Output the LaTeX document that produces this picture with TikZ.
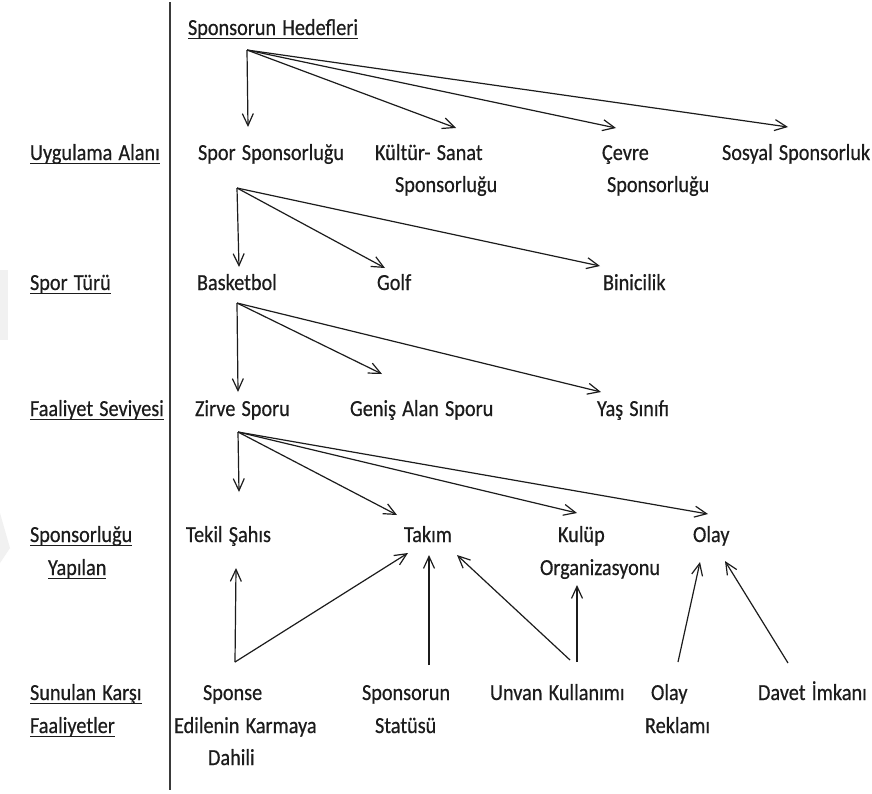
\documentclass[tikz,border=0pt]{standalone}
\usepackage{fontspec}
\setmainfont[FakeStretch=0.88,FakeBold=0.5,WordSpace=1.35]{Carlito}
\usetikzlibrary{arrows.meta,calc}
\definecolor{ink}{HTML}{1C1C1C}
\definecolor{rulegray}{HTML}{3A3A3A}
\definecolor{haze}{HTML}{F1F1F1}
\tikzset{
  txt/.style={anchor=base west,inner sep=0pt,outer sep=0pt,text=ink,
    font=\fontsize{23}{32}\selectfont},
  uline/.style={draw=ink,line width=1.3pt},
  arr/.style={draw=ink,line width=1.2pt,
    -{Straight Barb[length=12pt,width=11pt,line width=1.2pt]}},
}
\begin{document}
\begin{tikzpicture}[x=1pt,y=-1pt]
\useasboundingbox (0,0) rectangle (872,793);
\fill[white] (0,0) rectangle (872,793);

% faint marks at the left edge
\fill[haze] (0,270) rectangle (8,340);
\fill[haze] (0,513) -- (10,548) -- (0,563) -- cycle;

% separator between the level names and the tree
\draw[rulegray,line width=1.8pt] (170,2) -- (170,790);

% level names
\node[txt] (hdr) at (188,35) {Sponsorun Hedefleri};
\node[txt] (lUyg) at (30,160) {Uygulama Alanı};
\node[txt] (lSpor) at (30,290) {Spor Türü};
\node[txt] (lFaal) at (30,416) {Faaliyet Seviyesi};
\node[txt] (lSpA) at (30,542) {Sponsorluğu};
\node[txt] (lSpB) at (48,575) {Yapılan};
\node[txt] (lSuA) at (30,700) {Sunulan Karşı};
\node[txt] (lSuB) at (30,733) {Faaliyetler};
\foreach \n in {hdr,lUyg,lSpor,lFaal,lSpA,lSpB,lSuA,lSuB}
  \draw[uline] ([shift={(0,3.5)}]\n.base west) -- ([shift={(0,3.5)}]\n.base east);

% application areas
\node[txt] (spor) at (198,160) {Spor Sponsorluğu};
\node[txt] (kultur) at (375,160) {Kültür- Sanat};
\node[txt] (kulturB) at (395,192) {Sponsorluğu};
\node[txt] (cevre) at (602,160) {Çevre};
\node[txt] (cevreB) at (607,192) {Sponsorluğu};
\node[txt] (sosyal) at (722,160) {Sosyal Sponsorluk};

% sport types
\node[txt] (basket) at (197,290) {Basketbol};
\node[txt] (golf) at (377,290) {Golf};
\node[txt] (binic) at (603,290) {Binicilik};

% activity levels
\node[txt] (zirve) at (195,416) {Zirve Sporu};
\node[txt] (genis) at (350,416) {Geniş Alan Sporu};
\node[txt] (yas) at (597,416) {Yaş Sınıfı};

% sponsored parties
\node[txt] (tekil) at (186,542) {Tekil Şahıs};
\node[txt] (takim) at (404,542) {Takım};
\node[txt] (kulup) at (558,542) {Kulüp};
\node[txt] (kulupB) at (540,575) {Organizasyonu};
\node[txt] (olay) at (693,542) {Olay};

% counter activities
\node[txt] (sponseA) at (203,700) {Sponse};
\node[txt] (sponseB) at (174,733) {Edilenin Karmaya};
\node[txt] (sponseC) at (208,765) {Dahili};
\node[txt] (statuA) at (362,700) {Sponsorun};
\node[txt] (statuB) at (375,733) {Statüsü};
\node[txt] (unvan) at (490,700) {Unvan Kullanımı};
\node[txt] (reklamA) at (651,700) {Olay};
\node[txt] (reklamB) at (645,733) {Reklamı};
\node[txt] (davet) at (758,700) {Davet İmkanı};

% fan-out points
\coordinate (f1) at ([shift={(59,15)}]hdr.base west);
\coordinate (f2) at ([shift={(39,28)}]spor.base west);
\coordinate (f3) at ([shift={(40,13)}]basket.base west);
\coordinate (f4) at ([shift={(43,16)}]zirve.base west);
\coordinate (j1) at ([shift={(32,-38)}]sponseA.base west);

% objectives -> application areas
\draw[arr] (f1) -- ([shift={(50,-33)}]spor.base west);
\draw[arr] (f1) -- ([shift={(81,-32)}]kultur.base west);
\draw[arr] (f1) -- ([shift={(14,-32)}]cevre.base west);
\draw[arr] (f1) -- ([shift={(66,-33)}]sosyal.base west);

% sports sponsorship -> sport types
\draw[arr] (f2) -- ([shift={(42,-23)}]basket.base west);
\draw[arr] (f2) -- ([shift={(8,-22)}]golf.base west);
\draw[arr] (f2) -- ([shift={(-3,-24)}]binic.base west);

% basketball -> activity levels
\draw[arr] (f3) -- ([shift={(43,-24)}]zirve.base west);
\draw[arr] (f3) -- ([shift={(32,-42)}]genis.base west);
\draw[arr] (f3) -- ([shift={(4,-24)}]yas.base west);

% top-level sport -> sponsored parties
\draw[arr] (f4) -- ([shift={(53,-50)}]tekil.base west);
\draw[arr] (f4) -- ([shift={(-7,-27)}]takim.base west);
\draw[arr] (f4) -- ([shift={(19,-29)}]kulup.base west);
\draw[arr] (f4) -- ([shift={(15,-28)}]olay.base west);

% counter activities -> sponsored parties
\draw[arr] (j1) -- ([shift={(50,26)}]tekil.base west);
\draw[arr] (j1) -- ([shift={(4,11)}]takim.base west);
\draw[arr] ([shift={(67,-35)}]statuA.base west) -- ([shift={(25,13)}]takim.base west);
\draw[arr] ([shift={(80,-40)}]unvan.base west) -- ([shift={(53,13)}]takim.base west);
\draw[arr] ([shift={(87,-38)}]unvan.base west) -- ([shift={(37,10)}]kulupB.base west);
\draw[arr] ([shift={(27,-38)}]reklamA.base west) -- ([shift={(7,20)}]olay.base west);
\draw[arr] ([shift={(30,-37)}]davet.base west) -- ([shift={(32,19)}]olay.base west);
\end{tikzpicture}
\end{document}
